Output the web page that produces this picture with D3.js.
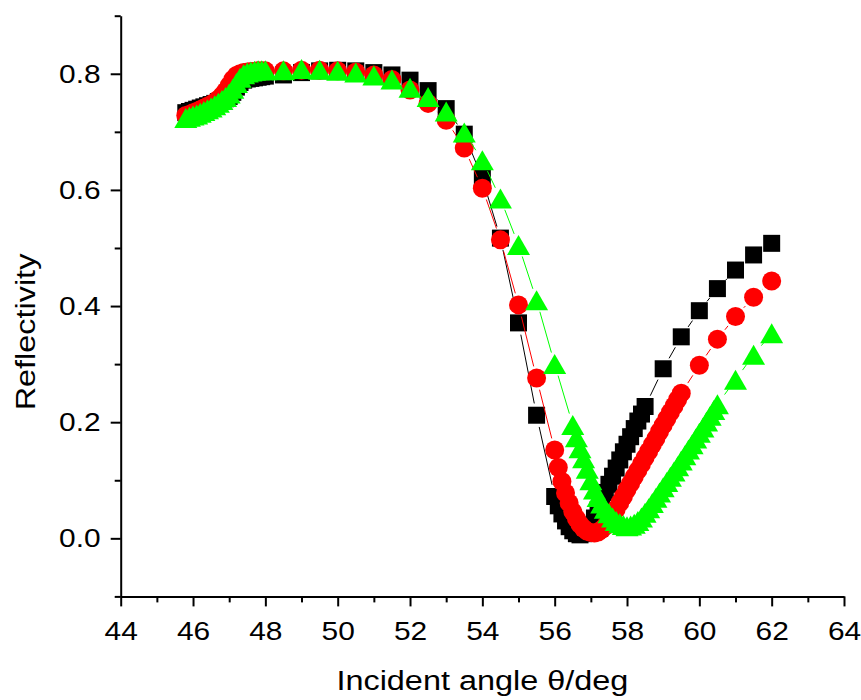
<!DOCTYPE html>
<html lang="en">
<head>
  <meta charset="UTF-8" />
  <title>Reflectivity vs incident angle</title>
  <script src="https://d3js.org/d3.v7.min.js"></script>
  <style>
    body { margin: 0; background: #fff; }
    svg text { font-family: "Liberation Sans", Arial, sans-serif; fill: #000; }
    .axis path, .axis line { stroke: #000; stroke-width: 2; }
  </style>
</head>
<body>
  <div id="chart"></div>

  <script>
    // ---- Data ----
    // Black squares
    const angleBlack = [
      45.8, 45.9, 46.0, 46.1, 46.2, 46.3, 46.4, 46.5, 46.6, 46.7, 46.8, 46.9,
      47.0, 47.1, 47.2, 47.3, 47.4, 47.5, 47.6, 47.7, 47.8, 47.9, 48.0,
      48.5, 49.0, 49.5, 50.0, 50.5, 51.0, 51.5, 52.0, 52.5, 53.0, 53.5, 54.0,
      54.5, 55.0, 55.5,
      56.0, 56.1, 56.2, 56.3, 56.4, 56.5, 56.6, 56.7, 56.8, 56.9, 57.0, 57.1,
      57.2, 57.3, 57.4, 57.5, 57.6, 57.7, 57.8, 57.9, 58.0, 58.1, 58.2, 58.3,
      58.4, 58.5,
      59.0, 59.5, 60.0, 60.5, 61.0, 61.5, 62.0
    ];
    const reflBlack = [
      0.733, 0.735, 0.737, 0.739, 0.741, 0.743, 0.745, 0.747, 0.749, 0.752, 0.754, 0.757,
      0.761, 0.768, 0.777, 0.785, 0.789, 0.791, 0.792, 0.793, 0.794, 0.795, 0.796,
      0.798, 0.802, 0.805, 0.806, 0.805, 0.802, 0.798, 0.789, 0.771, 0.740, 0.696, 0.620,
      0.517, 0.371, 0.212,
      0.072, 0.056, 0.042, 0.030, 0.020, 0.013, 0.008, 0.006, 0.008, 0.014, 0.023, 0.035,
      0.049, 0.064, 0.079, 0.093, 0.107, 0.121, 0.135, 0.149, 0.162, 0.175, 0.189, 0.202,
      0.214, 0.227,
      0.292, 0.347, 0.392, 0.430, 0.462, 0.488, 0.508
    ];

    // Red circles
    const angleRed = [
      45.8, 45.9, 46.0, 46.1, 46.2, 46.3, 46.4, 46.5, 46.6, 46.7, 46.8, 46.9,
      47.0, 47.1, 47.2, 47.3, 47.4, 47.5, 47.6, 47.7, 47.8, 47.9, 48.0,
      48.5, 49.0, 49.5, 50.0, 50.5, 51.0, 51.5, 52.0, 52.5, 53.0, 53.5, 54.0,
      54.5, 55.0, 55.5,
      56.0, 56.1, 56.2, 56.3, 56.4, 56.5, 56.6, 56.7, 56.8, 56.9, 57.0, 57.1,
      57.2, 57.3, 57.4, 57.5, 57.6, 57.7, 57.8, 57.9, 58.0, 58.1, 58.2, 58.3,
      58.4, 58.5, 58.6, 58.7, 58.8, 58.9, 59.0, 59.1, 59.2, 59.3, 59.4, 59.5,
      60.0, 60.5, 61.0, 61.5, 62.0
    ];
    const reflRed = [
      0.728, 0.730, 0.733, 0.735, 0.738, 0.741, 0.744, 0.747, 0.751, 0.756, 0.762, 0.770,
      0.780, 0.790, 0.797, 0.800, 0.802, 0.803, 0.804, 0.804, 0.805, 0.805, 0.805,
      0.805, 0.806, 0.806, 0.805, 0.803, 0.798, 0.790, 0.772, 0.749, 0.720, 0.672, 0.603,
      0.514, 0.402, 0.276,
      0.152, 0.122, 0.098, 0.078, 0.061, 0.046, 0.034, 0.024, 0.017, 0.012, 0.010, 0.009,
      0.011, 0.015, 0.021, 0.029, 0.039, 0.050, 0.061, 0.072, 0.084, 0.095, 0.106, 0.117,
      0.128, 0.139, 0.150, 0.161, 0.172, 0.184, 0.195, 0.206, 0.217, 0.228, 0.239, 0.250,
      0.298, 0.343, 0.382, 0.415, 0.443
    ];

    // Green triangles
    const angleGreen = [
      45.8, 45.9, 46.0, 46.1, 46.2, 46.3, 46.4, 46.5, 46.6, 46.7, 46.8, 46.9,
      47.0, 47.1, 47.2, 47.3, 47.4, 47.5, 47.6, 47.7, 47.8, 47.9, 48.0,
      48.5, 49.0, 49.5, 50.0, 50.5, 51.0, 51.5, 52.0, 52.5, 53.0, 53.5, 54.0,
      54.5, 55.0, 55.5, 56.0,
      56.5, 56.6, 56.7, 56.8, 56.9, 57.0, 57.1, 57.2, 57.3, 57.4, 57.5, 57.6,
      57.7, 57.8, 57.9, 58.0, 58.1, 58.2, 58.3, 58.4, 58.5, 58.6, 58.7, 58.8,
      58.9, 59.0, 59.1, 59.2, 59.3, 59.4, 59.5, 59.6, 59.7, 59.8, 59.9, 60.0,
      60.1, 60.2, 60.3, 60.4, 60.5,
      61.0, 61.5, 62.0
    ];
    const reflGreen = [
      0.724, 0.726, 0.728, 0.730, 0.733, 0.736, 0.739, 0.742, 0.746, 0.750, 0.755, 0.760,
      0.766, 0.774, 0.784, 0.793, 0.799, 0.802, 0.804, 0.805, 0.806, 0.806, 0.806,
      0.806, 0.808, 0.807, 0.805, 0.802, 0.797, 0.790, 0.776, 0.760, 0.735, 0.699, 0.651,
      0.585, 0.505, 0.410, 0.300,
      0.195, 0.174, 0.155, 0.138, 0.120, 0.100, 0.084, 0.071, 0.060, 0.051, 0.043, 0.036,
      0.030, 0.026, 0.023, 0.021, 0.022, 0.025, 0.030, 0.036, 0.044, 0.052, 0.061, 0.070,
      0.079, 0.088, 0.097, 0.106, 0.115, 0.124, 0.134, 0.143, 0.153, 0.162, 0.172, 0.182,
      0.191, 0.201, 0.211, 0.221, 0.231,
      0.273, 0.316, 0.353
    ];

    // Ticks
    const xMajorTicks = [44, 46, 48, 50, 52, 54, 56, 58, 60, 62, 64];
    const xMinorTicks = [45, 47, 49, 51, 53, 55, 57, 59, 61, 63];
    const yMajorTicks = [0.0, 0.2, 0.4, 0.6, 0.8];
    const yMinorTicks = [-0.1, 0.1, 0.3, 0.5, 0.7, 0.9];

    // ---- Drawing ----
    const width = 861, height = 700;

    const svg = d3.select("#chart")
      .append("svg")
      .attr("width", width)
      .attr("height", height);

    const x = d3.scaleLinear().domain([44, 64]).range([120.7, 844]);
    const y = d3.scaleLinear().domain([-0.1, 0.9]).range([596.4, 15.7]);

    // Axes (major + minor ticks, outward)
    const gx = svg.append("g")
      .attr("class", "axis")
      .attr("transform", `translate(0, ${y(-0.1)})`);
    gx.call(d3.axisBottom(x).tickValues(xMajorTicks).tickFormat(d3.format("d"))
      .tickSize(10).tickSizeOuter(0).tickPadding(15));
    gx.append("g").call(d3.axisBottom(x).tickValues(xMinorTicks).tickFormat("")
      .tickSize(6).tickSizeOuter(0))
      .select(".domain").remove();

    const gy = svg.append("g")
      .attr("class", "axis")
      .attr("transform", `translate(${x(44)}, 0)`);
    gy.call(d3.axisLeft(y).tickValues(yMajorTicks).tickFormat(d3.format(".1f"))
      .tickSize(10).tickSizeOuter(0).tickPadding(10));
    gy.append("g").call(d3.axisLeft(y).tickValues(yMinorTicks).tickFormat("")
      .tickSize(6).tickSizeOuter(0))
      .select(".domain").remove();

    svg.selectAll(".axis text")
      .attr("fill", "#000")
      .style("font-size", "26px")
      .attr("class", "tick-label");

    // Axis titles
    svg.append("text")
      .attr("class", "title")
      .attr("x", (x(44) + x(64)) / 2)
      .attr("y", 690)
      .attr("text-anchor", "middle")
      .style("font-size", "27px")
      .text("Incident angle θ/deg");

    svg.append("text")
      .attr("class", "title")
      .attr("transform", "translate(35, 332) rotate(-90)")
      .attr("text-anchor", "middle")
      .style("font-size", "27px")
      .text("Reflectivity");

    // Series: thin connecting line with gaps at the symbols, then the symbols
    const series = [
      { xs: angleBlack, ys: reflBlack, color: "#000000", symbol: "square" },
      { xs: angleRed, ys: reflRed, color: "#ff0000", symbol: "circle" },
      { xs: angleGreen, ys: reflGreen, color: "#00ff00", symbol: "triangle" }
    ];

    const gap = 12;
    const symbolPath = {
      square: "M-8.5,-8.5h17v17h-17Z",
      triangle: "M0,-10L11.5,10L-11.5,10Z"
    };

    series.forEach(s => {
      const pts = s.xs.map((a, i) => [x(a), y(s.ys[i])]);
      const g = svg.append("g");

      // line segments, shortened at both ends
      const segs = [];
      for (let i = 0; i < pts.length - 1; i++) {
        const [x1, y1] = pts[i], [x2, y2] = pts[i + 1];
        const len = Math.hypot(x2 - x1, y2 - y1);
        if (len <= 2 * gap) continue;
        const ux = (x2 - x1) / len, uy = (y2 - y1) / len;
        segs.push([x1 + ux * gap, y1 + uy * gap, x2 - ux * gap, y2 - uy * gap]);
      }
      g.selectAll("line")
        .data(segs)
        .enter()
        .append("line")
        .attr("x1", d => d[0]).attr("y1", d => d[1])
        .attr("x2", d => d[2]).attr("y2", d => d[3])
        .attr("stroke", s.color)
        .attr("stroke-width", 1);

      if (s.symbol === "circle") {
        g.selectAll("circle")
          .data(pts)
          .enter()
          .append("circle")
          .attr("cx", d => d[0])
          .attr("cy", d => d[1])
          .attr("r", 9.5)
          .attr("fill", s.color);
      } else {
        g.selectAll("path.sym")
          .data(pts)
          .enter()
          .append("path")
          .attr("class", "sym")
          .attr("d", symbolPath[s.symbol])
          .attr("transform", d => `translate(${d[0]}, ${d[1]})`)
          .attr("fill", s.color);
      }
    });

    // Slightly wider letterforms, as in the original figure
    svg.selectAll(".tick-label").each(function () {
      const len = this.getComputedTextLength();
      d3.select(this).attr("textLength", len * 1.15).attr("lengthAdjust", "spacingAndGlyphs");
    });
    svg.selectAll(".title").each(function () {
      const len = this.getComputedTextLength();
      d3.select(this).attr("textLength", len * 1.2).attr("lengthAdjust", "spacingAndGlyphs");
    });
  </script>
</body>
</html>
